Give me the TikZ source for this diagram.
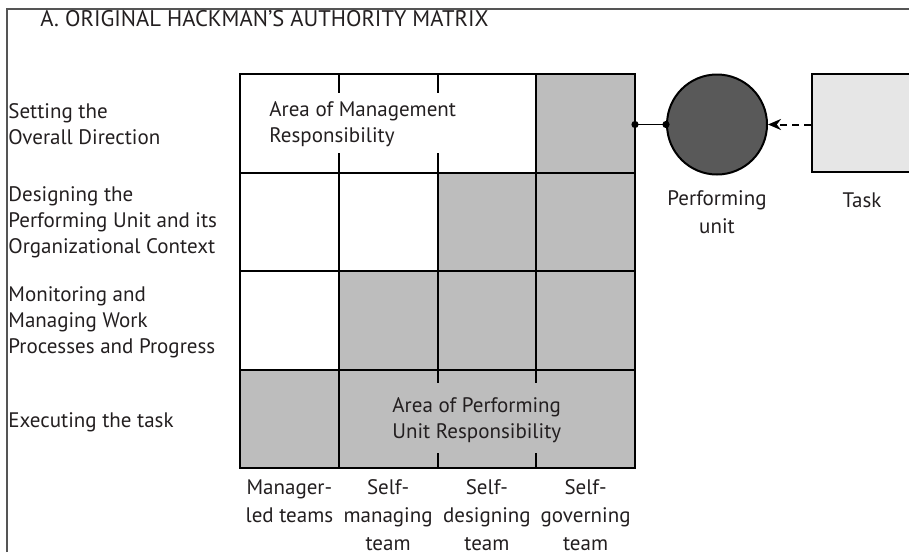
\documentclass[tikz,border=0pt]{standalone}
\usepackage{fontspec}
\setmainfont{PT Sans}
\usetikzlibrary{arrows.meta,positioning}
\definecolor{cinza}{HTML}{BDBDBD}
\definecolor{cinzaescuro}{HTML}{595959}
\definecolor{cinzaclaro}{HTML}{E6E6E6}
\definecolor{moldura}{HTML}{555555}
\definecolor{tinta}{HTML}{231F20}
\tikzset{
  grade/.style={line width=1pt, draw=black},
  rotulo/.style={anchor=base west, align=left, inner sep=0pt, text=tinta,
    font=\fontsize{10.5}{13}\selectfont},
  coluna/.style={anchor=base, align=center, inner sep=0pt, text=tinta,
    font=\fontsize{10.5}{14}\selectfont},
  ponto/.style={fill=black},
}
\begin{document}
\begin{tikzpicture}[x=0.5pt, y=-0.5pt]
  \useasboundingbox (0,0) rectangle (909,552);
  \clip (0,0) rectangle (909,552);
  % Moldura e titulo
  \draw[draw=moldura, line width=0.75pt] (7,552) -- (7,9) -- (909,9);
  \node[rotulo, font=\fontsize{11.3}{13}\selectfont] (title) at (40,26) {A. ORIGINAL HACKMAN’S AUTHORITY MATRIX};
  % Celulas cinzas (escada)
  \fill[cinza] (536,74) -- (635,74) -- (635,468) -- (240,468) -- (240,369.5) -- (339,369.5)
    -- (339,271) -- (437.5,271) -- (437.5,172.5) -- (536,172.5) -- cycle;
  % Grade da matriz
  \draw[grade] (240,74) rectangle (635,468);
  \draw[grade] (240,172.5) -- (635,172.5);
  \draw[grade] (240,271) -- (635,271);
  \draw[grade] (240,369.5) -- (635,369.5);
  \draw[grade] (339,74) -- (339,93);
  \draw[grade] (339,153) -- (339,468);
  \draw[grade] (437.5,74) -- (437.5,93);
  \draw[grade] (437.5,153) -- (437.5,383);
  \draw[grade] (437.5,453) -- (437.5,468);
  \draw[grade] (536,74) -- (536,383);
  \draw[grade] (536,453) -- (536,468);
  % Textos dentro da matriz
  \node[rotulo] (mgmt) at (269,142) {Area of Management\\Responsibility};
  \node[rotulo] (perf) at (392,438) {Area of Performing\\Unit Responsibility};
  % Linhas (decisoes)
  \node[rotulo] (row1) at (8,144) {Setting the\\Overall Direction};
  \node[rotulo] (row2) at (8,253) {Designing the\\Performing Unit and its\\Organizational Context};
  \node[rotulo] (row3) at (8,353) {Monitoring and\\Managing Work\\Processes and Progress};
  \node[rotulo] (row4) at (8,427) {Executing the task};
  % Colunas (tipos de equipe)
  \node[coluna] (col1) at (289.4,522) {Manager-\\led teams};
  \node[coluna] (col2) at (388.1,550) {Self-\\managing\\team};
  \node[coluna] (col3) at (486.9,550) {Self-\\designing\\team};
  \node[coluna] (col4) at (585.6,550) {Self-\\governing\\team};
  % Unidade e tarefa
  \node[circle, minimum size=50pt, inner sep=0pt, fill=cinzaescuro, draw=black, line width=1pt] (unit) at (717,124.5) {};
  \node[rectangle, minimum width=50pt, minimum height=49.25pt, fill=cinzaclaro, draw=black, line width=1pt] (task) at (862,123) {};
  \node[coluna] (unitlabel) at (717,233) {Performing\\unit};
  \node[coluna] (tasklabel) at (862,207) {Task};
  % Ligacoes
  \coordinate (edge) at (635,124.5);
  \draw[line width=0.5pt] (edge) -- (unit.west);
  \fill[ponto] (edge) circle[radius=1.8pt];
  \fill[ponto] (unit.west) circle[radius=1.8pt];
  \draw[-{Stealth[length=6.5pt, width=5.5pt]}, line width=1pt, dash pattern=on 3.5pt off 2.5pt] (task.west |- unit.east) -- (unit.east);
\end{tikzpicture}
\end{document}
